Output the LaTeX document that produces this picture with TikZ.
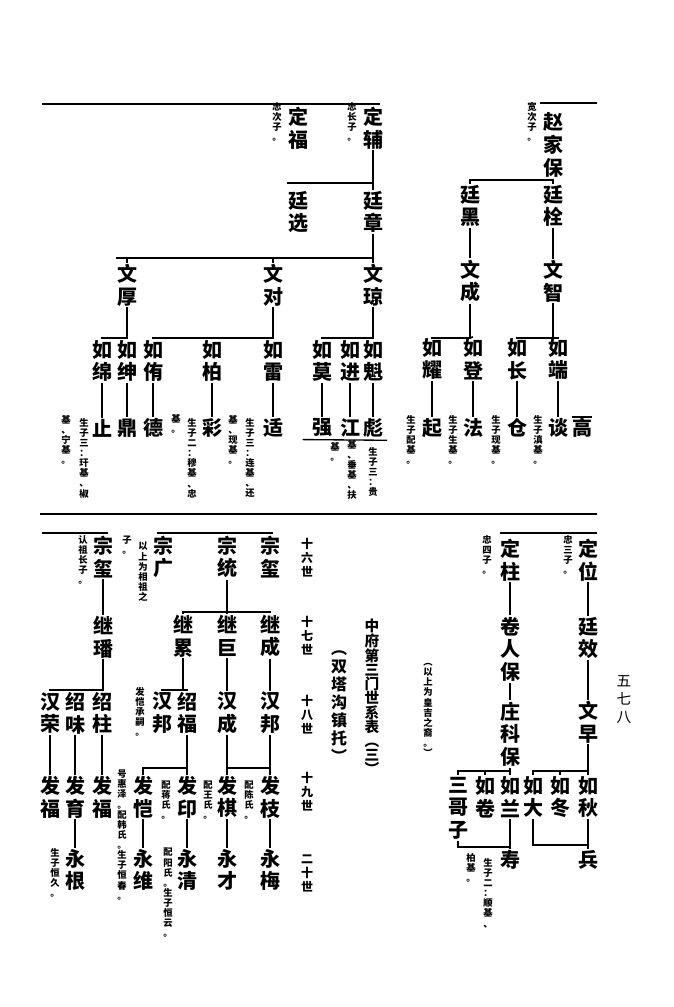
\documentclass[tikz,border=0pt]{standalone}
\usepackage{fontspec}
\newfontfamily\cjk{Noto Sans CJK SC}
\begin{document}
\begin{tikzpicture}[x=0.75pt,y=-0.75pt,line width=1.2pt,
  big/.style={font=\cjk\bfseries\fontsize{15}{17}\selectfont,align=center,inner sep=0.5pt},
  sm/.style={font=\cjk\bfseries\fontsize{7}{7.6}\selectfont,align=center,inner sep=0pt},
  mid/.style={font=\cjk\fontsize{11}{13.5}\selectfont,align=center,inner sep=0pt},
  rule/.style={line width=1.2pt}]
\useasboundingbox (0,0) rectangle (674,1007);
% ===== top right
\node[big] (zjb) at (553,145) {赵\\家\\保};
\node[sm] (a1) at (532,122) {宽\\次\\子\\。};
\coordinate (tr1) at (540,103); \coordinate (tr2) at (597,103);
\draw[rule] (tr1) -- (tr2);
\node[big] (th) at (470,206) {廷\\黑};
\node[big] (tq) at (553,206) {廷\\栓};
\node[big] (wc) at (470,281) {文\\成};
\node[big] (wz) at (553,281) {文\\智};
\node[big] (ry) at (432,359) {如\\耀};
\node[big] (rd) at (473,359) {如\\登};
\node[big] (rc) at (517,359) {如\\长};
\node[big] (rdu) at (558,359) {如\\端};
\node[big] (qi) at (432,428) {起};
\node[big] (fa) at (473,428) {法};
\node[big] (cang) at (517,428) {仓};
\node[big] (tan) at (558,428) {谈};
\node[big] (gao) at (582,428) {高};
\draw (gao.north west) ++(1,0) -- ([xshift=-1pt]gao.north east);
\node[sm] at (411,440) {生\\子\\配\\基\\。};
\node[sm] at (453,440) {生\\子\\生\\基\\。};
\node[sm] at (496,440) {生\\子\\现\\基\\。};
\node[sm] at (538,440) {生\\子\\滇\\基\\。};
\draw (zjb.south) -- (zjb.south|-0,180) -| (th.north);
\draw (zjb.south) -- (tq.north);
\draw (tq.south) -- (wz.north); \draw (th.south) -- (wc.north);
\draw (wc.south) -- (wc.south|-0,338) -| (ry.north); \draw (wc.south|-0,338) -- (rd.north);
\draw (wz.south) -- (wz.south|-0,338) -| (rc.north); \draw (wz.south|-0,338) -| (rdu.north);
\draw (ry.south) -- (qi.north); \draw (rd.south) -- (fa.north);
\draw (rc.south) -- (cang.north); \draw (rdu.south) -- (tan.north);
% ===== top left
\coordinate (tl1) at (42,104); \coordinate (tl2) at (380,104);
\draw[rule] (tl1) -- (tl2);
\node[big] (df) at (298,128) {定\\福};
\node[sm] at (277,122) {忠\\次\\子\\。};
\node[big] (dfu) at (373,128) {定\\辅};
\node[sm] at (352,122) {忠\\长\\子\\。};
\node[big] (tx) at (298,212) {廷\\选};
\node[big] (tz) at (373,212) {廷\\章};
\draw (dfu.south) -- (tz.north);
\draw (dfu.south|-0,183) -- (tx.north west|-0,183);
\node[big] (wh) at (127,285) {文\\厚};
\node[big] (wd) at (273,285) {文\\对};
\node[big] (wq) at (373,285) {文\\琼};
\draw (tz.south) -- (tz.south|-0,258) -- (wh.north west|-0,258);
\draw (wh.north) -- (wh.north|-0,258); \draw (wd.north) -- (wd.north|-0,258);
\draw (tz.south|-0,258) -- (wq.north);
\node[big] (rm) at (102,361) {如\\绵};
\node[big] (rs) at (127,361) {如\\绅};
\node[big] (ry2) at (153,361) {如\\侑};
\node[big] (rb) at (212,361) {如\\柏};
\node[big] (rl) at (273,361) {如\\雷};
\node[big] (rmo) at (322,361) {如\\莫};
\node[big] (rj) at (350,361) {如\\进};
\node[big] (rk) at (373,361) {如\\魁};
\draw (wh.south) -- (wh.south|-0,338) -| (rm.north); \draw (wh.south) -- (rs.north);
\draw (wd.south) -- (rl.north|-0,338) -| (ry2.north); \draw (rl.north|-0,338) -- (rl.north);
\draw (rb.north) -- (rb.north|-0,338);
\draw (wq.south) -- (wq.south|-0,338) -| (rmo.north); \draw (rj.north) -- (rj.north|-0,338);
\draw (wq.south) -- (rk.north);
\node[big] (zhi) at (102,428) {止};
\node[big] (ding) at (127,428) {鼎};
\node[big] (de) at (153,428) {德};
\node[big] (cai) at (212,428) {彩};
\node[big] (shi) at (273,428) {适};
\node[big] (qiang) at (322,428) {强};
\node[big] (jiang) at (350,428) {江};
\node[big] (biao) at (373,428) {彪};
\draw (rm.south) -- (zhi.north); \draw (rs.south) -- (ding.north); \draw (ry2.south) -- (de.north);
\draw (rb.south) -- (cai.north); \draw (rl.south) -- (shi.north); \draw (rmo.south) -- (qiang.north);
\draw (rj.south) -- (jiang.north); \draw (rk.south) -- (biao.north);
\draw[line width=1pt] ([xshift=-6pt]qiang.south west) ++(0,1) -- ([xshift=2pt,yshift=-1pt]biao.south east);
\node[sm] at (84,458) {生\\子\\三\\：\\玕\\基\\、\\椒};
\node[sm] at (66,440) {基\\、\\宁\\基\\。};
\node[sm] at (192,458) {生\\子\\二\\：\\穆\\基\\、\\忠};
\node[sm] at (176,424) {基\\。};
\node[sm] at (250,458) {生\\子\\三\\：\\连\\基\\、\\还};
\node[sm] at (233,440) {基\\、\\现\\基\\。};
\node[sm] at (373,472) {生\\子\\三\\：\\贵};
\node[sm] at (352,470) {基\\、\\垂\\基\\、\\扶};
\node[sm] at (335,452) {基\\。};
% divider
\coordinate (dv1) at (40,514); \coordinate (dv2) at (597,514);
\draw[line width=2.2pt] (dv1) -- (dv2);
% ===== titles
\foreach \t/\yy in {十\\六\\世/558, 十\\七\\世/636, 十\\八\\世/715, 十\\九\\世/792, 二\\十\\世/873}
  \node[sm,font=\cjk\bfseries\fontsize{9}{10.5}\selectfont] at (307,\yy) {\t};
\node[font=\cjk\bfseries\fontsize{11}{10.6}\selectfont,align=center,inner sep=0pt] at (372,697) {中\\府\\第\\三\\门\\世\\系\\表\\︵\\三\\︶};
\node[font=\cjk\bfseries\fontsize{12}{13.5}\selectfont,align=center,inner sep=0pt] at (339,707) {︵\\双\\塔\\沟\\镇\\托\\︶};
\node[sm] at (428,710) {︵\\以\\上\\为\\皇\\吉\\之\\裔\\。\\︶};
\node[mid] at (624,700) {五\\七\\八};
% ===== bottom right
\coordinate (br1) at (500,533); \coordinate (br2) at (597,533);
\draw[rule] (br1) -- (br2);
\node[big] (dw) at (588,560) {定\\位};
\node[sm] at (568,555) {忠\\三\\子\\。};
\node[big] (dz) at (510,560) {定\\柱};
\node[sm] at (487,555) {忠\\四\\子\\。};
\node[big] (tx2) at (588,638) {廷\\效};
\node[big] (wz2) at (588,722) {文\\早};
\node[big] (jrb) at (510,649) {卷\\人\\保};
\node[big] (zkb) at (510,734) {庄\\科\\保};
\draw (dw.south) -- (tx2.north); \draw (tx2.south) -- (wz2.north);
\draw (dz.south) -- (jrb.north); \draw (jrb.south) -- (zkb.north);
\node[big] (rq) at (588,797) {如\\秋};
\node[big] (rdo) at (560,797) {如\\冬};
\node[big] (rda) at (533,797) {如\\大};
\draw (wz2.south) -- (wz2.south|-0,771) -| (rda.north); \draw (wz2.south) -- (rq.north);
\draw (rdo.north) -- (rdo.north|-0,771);
\node[big] (bing) at (588,860) {兵};
\draw (rq.south) -- (bing.north);
\draw (rda.south) |- (bing.north|-0,845);
\node[big] (rl2) at (510,797) {如\\兰};
\node[big] (rju) at (485,797) {如\\卷};
\node[big] (sgz) at (458,808) {三\\哥\\子};
\draw (zkb.south) -- (zkb.south|-0,771) -| (sgz.north); \draw (zkb.south) -- (rl2.north);
\draw (rju.north) -- (rju.north|-0,771);
\node[big] (shou) at (510,860) {寿};
\draw (rl2.south) -- (shou.north);
\draw (sgz.south) |- (shou.north|-0,847);
\node[sm] at (471,868) {柏\\基\\。};
\node[sm] at (488,893) {生\\子\\二\\：\\顺\\基\\、};
% ===== bottom left
\coordinate (bl1) at (157,533); \coordinate (bl2) at (273,533);
\draw[rule] (bl1) -- (bl2);
\node[big] (zx) at (270,557) {宗\\玺};
\node[big] (zt) at (227,557) {宗\\统};
\node[big] (zg) at (163,557) {宗\\广};
\node[sm] at (143,572) {以\\上\\为\\相\\祖\\之};
\node[sm] at (127,545) {子\\。};
\node[big] (jc) at (270,636) {继\\成};
\node[big] (jj) at (227,636) {继\\巨};
\node[big] (jl) at (183,636) {继\\累};
\draw (zt.south) -- (jj.north);
\draw (jl.north) |- (jc.north|-0,612) -- (jc.north);
\node[big] (hb) at (270,713) {汉\\邦};
\node[big] (hc) at (227,713) {汉\\成};
\node[big] (hb2) at (162,713) {汉\\邦};
\node[big] (sf) at (187,713) {绍\\福};
\node[sm] at (140,712) {发\\恺\\承\\嗣\\。};
\draw (jc.south) -- (hb.north); \draw (jj.south) -- (hc.north);
\draw (jl.south) |- (hb2.north|-0,690) -- (hb2.north);
\draw (jl.south|-0,690) -- (sf.north|-0,690) -- (sf.north);
\node[big] (fz) at (270,797) {发\\枝};
\node[big] (fq) at (227,797) {发\\棋};
\node[big] (fy) at (187,797) {发\\印};
\node[big] (fk) at (143,797) {发\\恺};
\draw (hb.south) -- (fz.north); \draw (hc.south) -- (fq.north);
\draw (hc.south|-0,768) -- (fz.north|-0,768);
\draw (sf.south) -- (fy.north); \draw (sf.south|-0,768) -| (fk.north);
\node[sm] at (249,800) {配\\陈\\氏\\。};
\node[sm] at (208,800) {配\\王\\氏\\。};
\node[sm] at (166,800) {配\\蒋\\氏\\。};
\node[sm] at (122,835) {号\\惠\\泽\\。\\配\\韩\\氏\\。\\生\\子\\恒\\春\\。};
\node[big] (ym) at (270,870) {永\\梅};
\node[big] (yc) at (227,870) {永\\才};
\node[big] (yq) at (187,870) {永\\清};
\node[big] (yw) at (143,870) {永\\维};
\draw (fz.south) -- (ym.north); \draw (fq.south) -- (yc.north);
\draw (fy.south) -- (yq.north); \draw (fk.south) -- (yw.north);
\node[sm] at (168,893) {配\\阳\\氏\\。\\生\\子\\恒\\云\\。};
% left group
\coordinate (bl3) at (42,533); \coordinate (bl4) at (108,533);
\draw[rule] (bl3) -- (bl4);
\node[big] (zx2) at (103,557) {宗\\玺};
\node[sm] at (83,560) {认\\祖\\长\\子\\。};
\node[big] (jf) at (103,637) {继\\璠};
\draw (zx2.south) -- (jf.north);
\node[big] (sz) at (102,713) {绍\\柱};
\node[big] (sw) at (75,713) {绍\\味};
\node[big] (hr) at (50,713) {汉\\荣};
\draw (jf.south) -- (jf.south|-0,690) -| (hr.north); \draw (sw.north) -- (sw.north|-0,690);
\draw (jf.south|-0,690) -- (sz.north);
\node[big] (ff1) at (102,797) {发\\福};
\node[big] (fyu) at (75,797) {发\\育};
\node[big] (ff2) at (50,797) {发\\福};
\draw (sz.south) -- (ff1.north); \draw (sw.south) -- (fyu.north); \draw (hr.south) -- (ff2.north);
\node[big] (yg) at (75,870) {永\\根};
\draw (fyu.south) -- (yg.north);
\node[sm] at (55,873) {生\\子\\恒\\久\\。};
\end{tikzpicture}
\end{document}
